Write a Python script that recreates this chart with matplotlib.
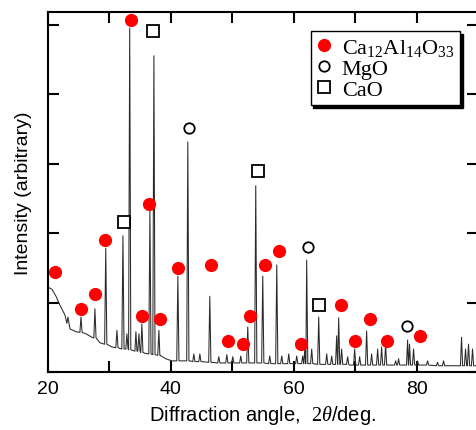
import matplotlib
matplotlib.use("Agg")
import matplotlib.pyplot as plt
from matplotlib.lines import Line2D
from matplotlib.ticker import MultipleLocator, NullFormatter
import numpy as np

plt.rcParams['font.family'] = ['Liberation Sans', 'DejaVu Sans']
plt.rcParams['mathtext.fontset'] = 'custom'
plt.rcParams['mathtext.rm'] = 'Liberation Serif'
plt.rcParams['mathtext.it'] = 'Liberation Serif:italic'

# background of the pattern (2theta, intensity)
bg_x = [20.00, 20.65, 21.30, 21.95, 22.76, 23.58, 24.55, 26.18, 27.15, 28.46, 30.41,
        32.52, 34.15, 35.77, 38.21, 39.19, 40.16, 43.09, 49.59, 60.98, 69.11, 77.24, 89.59]
bg_y = [1.22, 1.19, 1.09, 0.96, 0.82, 0.62, 0.58, 0.55, 0.50, 0.42, 0.36,
        0.33, 0.30, 0.27, 0.24, 0.19, 0.16, 0.16, 0.13, 0.12, 0.10, 0.10, 0.09]

# peaks: position, top, local base
peak_x = [23.25, 25.37, 27.64, 29.40, 31.22, 32.20, 32.85, 33.30, 34.31, 34.80, 35.28,
          36.59, 37.24, 38.05, 41.14, 42.76, 43.74, 44.72, 46.34, 47.80, 49.11, 50.08,
          51.38, 52.52, 53.82, 54.96, 56.10, 57.24, 58.05, 59.19, 60.49, 61.46, 61.80,
          62.11, 62.93, 64.07, 65.37, 66.18, 66.99, 67.32, 67.80, 68.78, 69.92, 70.73,
          71.87, 72.68, 73.66, 74.31, 74.96, 76.59, 77.07, 78.54, 78.85, 79.51, 80.16,
          81.79, 83.41, 84.39, 87.32, 87.97, 88.46, 89.11]
peak_top = [0.79, 0.79, 0.91, 1.78, 0.60, 1.96, 0.55, 4.95, 0.58, 0.55, 0.69,
            2.32, 4.55, 0.60, 1.38, 3.31, 0.26, 0.26, 1.09, 0.22, 0.25, 0.22,
            0.23, 0.65, 2.68, 1.38, 0.23, 1.54, 0.23, 0.26, 0.23, 0.23, 0.33,
            1.61, 0.33, 0.79, 0.26, 0.23, 0.52, 0.78, 0.33, 0.22, 0.33, 0.22,
            0.59, 0.26, 0.33, 0.36, 0.40, 0.16, 0.19, 0.46, 0.40, 0.33, 0.16,
            0.16, 0.14, 0.16, 0.50, 0.33, 0.40, 0.33]
peak_base = [0.70, 0.57, 0.49, 0.40, 0.35, 0.33, 0.33, 0.32, 0.30, 0.30, 0.28,
             0.26, 0.25, 0.24, 0.16, 0.16, 0.15, 0.15, 0.14, 0.13, 0.13, 0.13,
             0.13, 0.13, 0.13, 0.13, 0.12, 0.12, 0.12, 0.12, 0.12, 0.12, 0.12,
             0.12, 0.12, 0.11, 0.11, 0.11, 0.11, 0.11, 0.11, 0.11, 0.10, 0.10,
             0.10, 0.10, 0.10, 0.10, 0.10, 0.10, 0.10, 0.10, 0.10, 0.10, 0.10,
             0.10, 0.09, 0.09, 0.09, 0.09, 0.09, 0.09]

# phase markers
c12a7_x = [21.14, 25.37, 27.64, 29.27, 33.50, 35.28, 36.42, 38.21, 41.14, 46.50, 49.27,
           51.71, 52.85, 55.28, 57.56, 61.14, 67.64, 69.92, 72.36, 75.12, 80.49]
c12a7_y = [1.44, 0.91, 1.12, 1.90, 5.06, 0.81, 2.42, 0.76, 1.50, 1.54, 0.45,
           0.40, 0.81, 1.54, 1.74, 0.40, 0.96, 0.45, 0.76, 0.45, 0.52]
mgo_x = [42.93, 62.28, 78.37]
mgo_y = [3.51, 1.80, 0.66]
cao_x = [32.36, 37.07, 54.15, 64.07]
cao_y = [2.16, 4.91, 2.89, 0.96]

# build the trace from background and peak points
w = 0.18
pts = list(zip(bg_x, bg_y))
for px, pt, pb in zip(peak_x, peak_top, peak_base):
    pts += [(px - w, pb), (px, pt), (px + w, pb)]
pts.sort()
tx = np.array([p[0] for p in pts])
ty = np.array([p[1] for p in pts])

fig = plt.figure(figsize=(4.76, 4.31), dpi=100)
ax = fig.add_axes([48/476, 58/431, 430/476, 360/431])
ax.plot(tx, ty, color='#2a2a2a', lw=0.75)

ax.plot(c12a7_x, c12a7_y, 'o', color='red', ms=9.5, mec='none', clip_on=False)
ax.plot(mgo_x, mgo_y, 'o', mfc='white', mec='black', ms=7.5, mew=1.3)
ax.plot(cao_x, cao_y, 's', mfc='white', mec='black', ms=8, mew=1.3)

ax.set_xlim(20, 90)
ax.set_ylim(0, 5.18)
ax.xaxis.set_major_locator(MultipleLocator(20))
ax.xaxis.set_minor_locator(MultipleLocator(10))
ax.yaxis.set_major_locator(MultipleLocator(1))
ax.yaxis.set_major_formatter(NullFormatter())
ax.tick_params(which='both', direction='in', top=True, right=True, length=8, width=1.5,
               labelsize=14)
ax.tick_params(axis='x', pad=6)
for s in ax.spines.values():
    s.set_linewidth(1.5)

ax.set_ylabel('Intensity (arbitrary)', fontsize=14, labelpad=8)
ax.set_xlabel('Diffraction angle,  $2\\theta$/deg.', fontsize=14.5, labelpad=4)

handles = [
    Line2D([], [], marker='o', ls='none', color='red', mec='none', ms=9.5),
    Line2D([], [], marker='o', ls='none', mfc='white', mec='black', ms=7.5, mew=1.3),
    Line2D([], [], marker='s', ls='none', mfc='white', mec='black', ms=8, mew=1.3),
]
labels = ['Ca$_{12}$Al$_{14}$O$_{33}$', 'MgO', 'CaO']
leg = ax.legend(handles, labels, loc='upper right', bbox_to_anchor=(0.958, 0.947),
                borderaxespad=0, fancybox=False, framealpha=1, edgecolor='black',
                shadow={'color': 'black', 'alpha': 1},
                prop={'family': 'Liberation Serif', 'size': 16},
                handlelength=0.7, handletextpad=0.45, labelspacing=0.02, borderpad=0.25)
leg.get_frame().set_linewidth(1.0)

fig.savefig('out.png', dpi=100)
